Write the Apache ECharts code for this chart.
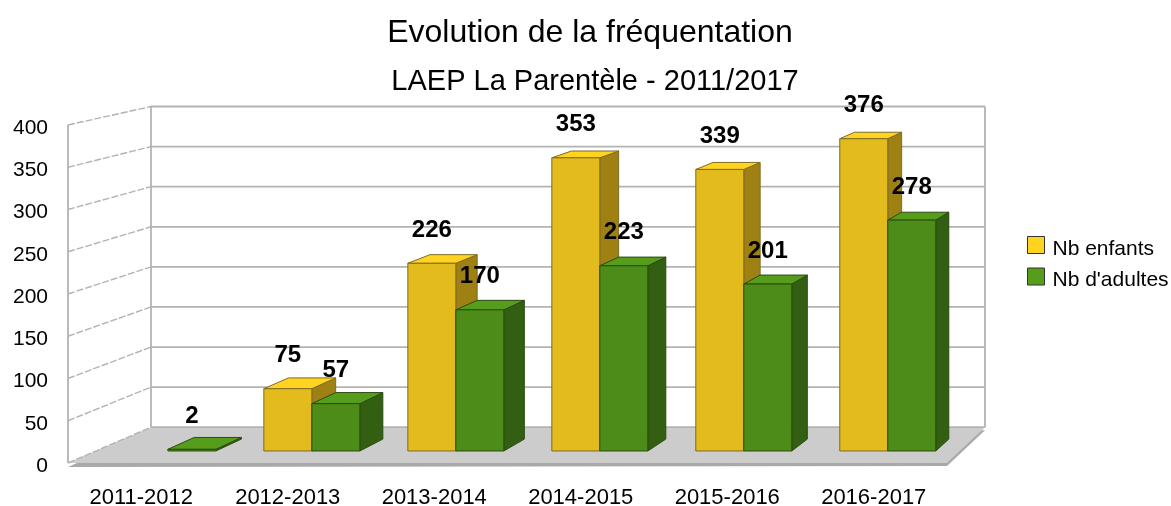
<!DOCTYPE html>
<html>
<head>
<meta charset="utf-8">
<title>Evolution de la fréquentation</title>
<style>
  html, body { margin: 0; padding: 0; background: #fff; }
  #chart { width: 1171px; height: 506px; }
</style>
<script src="https://cdn.jsdelivr.net/npm/echarts@6/dist/echarts.min.js"></script>
</head>
<body>
<div id="chart"></div>
<script>
// données
const categories = ['2011-2012', '2012-2013', '2013-2014', '2014-2015', '2015-2016', '2016-2017'];
const enfants = [null, 75, 226, 353, 339, 376];
const adultes = [2, 57, 170, 223, 201, 278];
const yTicks = [0, 50, 100, 150, 200, 250, 300, 350, 400];

const FONT = '"Liberation Sans", Arial, sans-serif';

// fausse 3D : chaque plan de profondeur est une homothétie vers un point de fuite
const VANISH_X = 1689;
const VANISH_Y = -236;
const PLANE_WALL = 0.9488;
const PLANE_BAR_FRONT = 0.9828;
const PLANE_BAR_BACK = 0.9658;

function project(pt, s) {
  return [VANISH_X + (pt[0] - VANISH_X) * s, VANISH_Y + (pt[1] - VANISH_Y) * s];
}

function poly(points, fill, stroke) {
  return {
    type: 'polygon',
    shape: { points: points },
    style: { fill: fill, stroke: stroke || null, lineWidth: stroke ? 1 : 0, lineJoin: 'round' }
  };
}

function line(a, b, dash) {
  return {
    type: 'line',
    shape: { x1: a[0], y1: a[1], x2: b[0], y2: b[1] },
    style: { stroke: '#b3b3b3', lineWidth: dash ? 1.4 : 1.8, lineDash: dash ? [7, 2] : null }
  };
}

// murs, sol et grille
function renderWalls(params, api) {
  const box = params.coordSys;
  const x0 = box.x;
  const x1 = box.x + box.width;
  const y = api.coord([0, api.value(0)])[1];
  const children = [
    line([x0, y], project([x0, y], PLANE_WALL), true),
    line(project([x0, y], PLANE_WALL), project([x1, y], PLANE_WALL))
  ];
  if (params.dataIndex === 0) {
    const a = [x0, y];
    const b = project([x0, y], PLANE_WALL);
    const c = project([x1, y], PLANE_WALL);
    const d = [x1, y];
    const top = box.y;
    children.unshift(
      poly([[a[0], a[1] + 4], [b[0], b[1] + 3], [c[0], c[1] + 3], [d[0], d[1] + 3]], '#a9a9a9'),
      poly([a, b, c, d], '#cccccc'),
      line([x0, top], a),
      line(project([x0, top], PLANE_WALL), b),
      line(project([x1, top], PLANE_WALL), c)
    );
  }
  return { type: 'group', children: children };
}

function makeBarRender(side, colors) {
  return function (params, api) {
    const val = api.value(1);
    if (val == null || isNaN(val)) return;
    const center = api.coord([api.value(0), val]);
    const base = api.coord([api.value(0), 0]);
    const w = api.size([1, 0])[0] / 3;
    const xa = side === 0 ? center[0] - w : center[0];
    const xb = xa + w;
    const fa = project([xa, center[1]], PLANE_BAR_FRONT);
    const fb = project([xb, center[1]], PLANE_BAR_FRONT);
    const fc = project([xb, base[1]], PLANE_BAR_FRONT);
    const fd = project([xa, base[1]], PLANE_BAR_FRONT);
    const ba = project([xa, center[1]], PLANE_BAR_BACK);
    const bb = project([xb, center[1]], PLANE_BAR_BACK);
    const bc = project([xb, base[1]], PLANE_BAR_BACK);
    return {
      type: 'group',
      children: [
        poly([fb, bb, bc, fc], colors.side, colors.edge),
        poly([fa, ba, bb, fb], colors.top, colors.edge),
        poly([fa, fb, fc, fd], colors.front, colors.edge)
      ]
    };
  };
}

function makeLabelRender(side) {
  return function (params, api) {
    const val = api.value(1);
    if (val == null || isNaN(val)) return;
    const center = api.coord([api.value(0), val]);
    const w = api.size([1, 0])[0] / 3;
    const xm = side === 0 ? center[0] - w / 2 : center[0] + w / 2;
    const p = project([xm, center[1]], PLANE_BAR_FRONT);
    return {
      type: 'text',
      style: {
        text: String(val),
        x: p[0],
        y: p[1] - 33,
        align: 'center',
        verticalAlign: 'middle',
        font: 'bold 24px ' + FONT,
        fill: '#000'
      }
    };
  };
}

const yellow = { front: '#e3bb1c', top: '#ffd320', side: '#9f8012', edge: '#7d6c24' };
const green = { front: '#4e8c1a', top: '#579d1c', side: '#325f12', edge: '#2c4a12' };

function pairs(values) {
  return values.map(function (v, i) { return [i, v]; });
}

const chart = echarts.init(document.getElementById('chart'), null, { renderer: 'canvas' });
chart.setOption({
  animation: false,
  backgroundColor: '#fff',
  title: [{
    text: 'Evolution de la fréquentation',
    left: 585,
    top: 12,
    textAlign: 'center',
    textStyle: { fontFamily: FONT, fontSize: 32, fontWeight: 'normal', color: '#000' }
  }, {
    text: 'LAEP La Parentèle - 2011/2017',
    left: 590,
    top: 62,
    textAlign: 'center',
    textStyle: { fontFamily: FONT, fontSize: 29, fontWeight: 'normal', color: '#000' }
  }],
  legend: {
    orient: 'vertical',
    left: 1022,
    top: 231,
    itemWidth: 17,
    itemHeight: 17,
    itemGap: 8,
    icon: 'rect',
    selectedMode: false,
    data: [
      { name: 'Nb enfants', itemStyle: { color: yellow.top, borderColor: '#333', borderWidth: 1 } },
      { name: "Nb d'adultes", itemStyle: { color: green.top, borderColor: '#333', borderWidth: 1 } }
    ],
    formatter: '{a|{name}}',
    textStyle: {
      fontFamily: FONT,
      fontSize: 21,
      color: '#000',
      rich: { a: { fontFamily: FONT, fontSize: 21, color: '#000', padding: [8, 0, 0, 3] } }
    }
  },
  grid: { left: 68, top: 125, width: 879, height: 338, outerBoundsMode: 'none' },
  xAxis: {
    type: 'category',
    data: categories,
    axisLine: { show: false },
    axisTick: { show: false },
    axisLabel: { fontFamily: FONT, fontSize: 22, color: '#000', margin: 24 }
  },
  yAxis: {
    type: 'value',
    min: 0,
    max: 400,
    interval: 50,
    axisLine: { show: false },
    axisTick: { show: false },
    splitLine: { show: false },
    axisLabel: { fontFamily: FONT, fontSize: 21, color: '#000', margin: 20, verticalAlign: 'top', lineHeight: 6 }
  },
  series: [
    { type: 'custom', name: 'grille', silent: true, z: 1, renderItem: renderWalls, data: yTicks.map(function (v) { return [v]; }), encode: { y: 0 } },
    { type: 'custom', name: 'Nb enfants', z: 2, itemStyle: { color: yellow.top }, renderItem: makeBarRender(0, yellow), data: pairs(enfants), encode: { x: 0, y: 1 } },
    { type: 'custom', name: "Nb d'adultes", z: 3, itemStyle: { color: green.top }, renderItem: makeBarRender(1, green), data: pairs(adultes), encode: { x: 0, y: 1 } },
    { type: 'custom', name: 'Nb enfants', z: 4, silent: true, renderItem: makeLabelRender(0), data: pairs(enfants), encode: { x: 0, y: 1 } },
    { type: 'custom', name: "Nb d'adultes", z: 4, silent: true, renderItem: makeLabelRender(1), data: pairs(adultes), encode: { x: 0, y: 1 } }
  ]
});
</script>
</body>
</html>
